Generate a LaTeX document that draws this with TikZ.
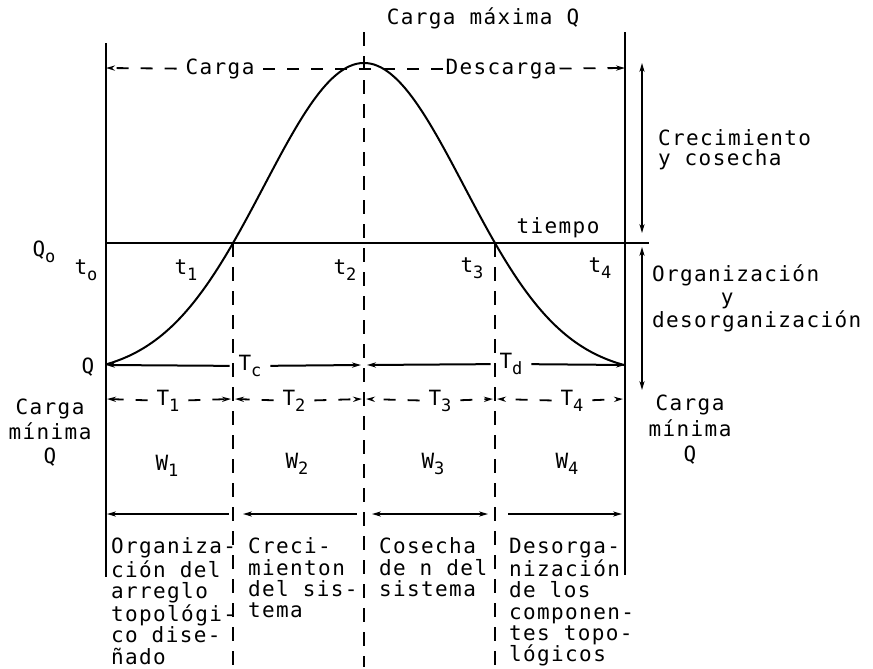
\documentclass[tikz,border=0pt]{standalone}
\usepackage{fontspec}
\setmonofont{DejaVu Sans Mono}[LetterSpace=6.7]
\usetikzlibrary{arrows.meta}
\newcommand{\sbs}[1]{\raisebox{-0.55ex}{\fontsize{8.5}{9}\selectfont #1}}

\begin{document}
\begin{tikzpicture}[x=0.5pt, y=-0.5pt, line width=1pt,
  >={Stealth[length=4.5pt,width=2.6pt]},
  lbl/.style={inner sep=1pt, font=\ttfamily\fontsize{10.5}{12}\selectfont},
  gaplbl/.style={lbl, inner xsep=4pt},
  blk/.style={lbl, inner sep=0pt, anchor=north west, align=left},
  dimdash/.style={line width=0.9pt, dash pattern=on 6pt off 6pt},
  vdash/.style={line width=0.9pt, dash pattern=on 7pt off 5pt}]

  \useasboundingbox (0,0) rectangle (873,669);

  % -- Axes and time line --
  \coordinate (axL0) at (106,43);
  \coordinate (axL1) at (106,577);
  \coordinate (axR0) at (625,32);
  \coordinate (axR1) at (625,575);
  \coordinate (tl0) at (106,243);
  \coordinate (tl1) at (649,243);
  \draw (axL0) -- (axL1);
  \draw (axR0) -- (axR1);
  \draw (tl0) -- (tl1);
  \node[lbl] (tiempo) at (558,228) {tiempo};

  % -- Dashed time marks --
  \coordinate (v1a) at (233,243);
  \coordinate (v1b) at (233,667);
  \coordinate (v2a) at (364,32);
  \coordinate (v2b) at (364,667);
  \coordinate (v3a) at (495,243);
  \coordinate (v3b) at (495,667);
  \draw[vdash] (v1a) -- (v1b);
  \draw[vdash] (v2a) -- (v2b);
  \draw[vdash] (v3a) -- (v3b);

  % -- Load curve --
  \draw plot[domain=106:625, samples=150, smooth]
    (\x, {365 - 302*(exp(-0.5*((\x-364)/100)*((\x-364)/100)) - 0.034)/0.966});

  % -- Maximum load --
  \node[lbl] (cmax) at (483,18) {Carga máxima Q};
  \coordinate (topL) at (106,68);
  \coordinate (topR) at (625,68);
  \node[gaplbl] (carga) at (220,69) {Carga};
  \node[lbl] (descarga) at (501,69) {Descarga};
  \draw[dimdash, ->] (carga) -- (topL);
  \draw[dimdash] (carga) -- (descarga);
  \draw[dimdash, ->] (descarga) -- (topR);

  % -- Left labels --
  \node[lbl] (qo) at (44,252) {Q\sbs{o}};
  \node[lbl] (to) at (86,270) {t\sbs{o}};
  \node[lbl] (qmin) at (88,367) {Q};
  \node[lbl, align=center, anchor=north, font=\ttfamily\fontsize{10.5}{12.3}\selectfont]
    (cminL) at (50,396) {Carga\\mínima\\Q};

  % -- Time marks --
  \node[lbl] (t1) at (186,270) {t\sbs{1}};
  \node[lbl] (t2) at (345,270) {t\sbs{2}};
  \node[lbl] (t3) at (472,268) {t\sbs{3}};
  \node[lbl] (t4) at (600,268) {t\sbs{4}};

  % -- Tc / Td --
  \coordinate (qL) at (106,365);
  \coordinate (qM1) at (361,365);
  \coordinate (qM2) at (367,365);
  \coordinate (qR) at (625,365);
  \node[gaplbl] (Tc) at (250,366) {T\sbs{c}};
  \node[gaplbl] (Td) at (511,364) {T\sbs{d}};
  \draw[->] (Tc) -- (qL);
  \draw[->] (Tc) -- (qM1);
  \draw[->] (Td) -- (qM2);
  \draw[->] (Td) -- (qR);

  % -- Periods T1..T4 --
  \coordinate (b0) at (107,399);
  \coordinate (b1l) at (231,399);
  \coordinate (b1r) at (235,399);
  \coordinate (b2l) at (362,399);
  \coordinate (b2r) at (366,399);
  \coordinate (b3l) at (493,399);
  \coordinate (b3r) at (497,399);
  \coordinate (b4) at (623,399);
  \node[gaplbl] (T1) at (168,401) {T\sbs{1}};
  \node[gaplbl] (T2) at (294,401) {T\sbs{2}};
  \node[gaplbl] (T3) at (440,401) {T\sbs{3}};
  \node[gaplbl] (T4) at (572,401) {T\sbs{4}};
  \draw[dimdash, ->] (T1) -- (b0);
  \draw[dimdash, ->] (T1) -- (b1l);
  \draw[dimdash, ->] (T2) -- (b1r);
  \draw[dimdash, ->] (T2) -- (b2l);
  \draw[dimdash, ->] (T3) -- (b2r);
  \draw[dimdash, ->] (T3) -- (b3l);
  \draw[dimdash, ->] (T4) -- (b3r);
  \draw[dimdash, ->] (T4) -- (b4);

  % -- Work W1..W4 --
  \node[lbl] (W1) at (167,466) {W\sbs{1}};
  \node[lbl] (W2) at (297,464) {W\sbs{2}};
  \node[lbl] (W3) at (433,464) {W\sbs{3}};
  \node[lbl] (W4) at (567,464) {W\sbs{4}};
  \coordinate (w1a) at (107,514);
  \coordinate (w1b) at (229,514);
  \coordinate (w2a) at (243,514);
  \coordinate (w2b) at (357,514);
  \coordinate (w3a) at (372,514);
  \coordinate (w3b) at (488,514);
  \coordinate (w4a) at (508,514);
  \coordinate (w4b) at (622,514);
  \draw[<-] (w1a) -- (w1b);
  \draw[<-] (w2a) -- (w2b);
  \draw[<->] (w3a) -- (w3b);
  \draw[->] (w4a) -- (w4b);

  % -- Phase texts --
  \node[blk, font=\ttfamily\fontsize{10.5}{10.6}\selectfont] (ph1) at (110,537)
    {Organiza-\\ción del\\arreglo\\topológi-\\co dise-\\ñado};
  \node[blk, font=\ttfamily\fontsize{10.5}{10.6}\selectfont] (ph2) at (247,537)
    {Creci-\\mienton\\del sis-\\tema};
  \node[blk, font=\ttfamily\fontsize{10.5}{10.6}\selectfont] (ph3) at (378,537)
    {Cosecha\\de n del\\sistema};
  \node[blk, font=\ttfamily\fontsize{10.5}{10.6}\selectfont] (ph4) at (508,537)
    {Desorga-\\nización\\de los\\componen-\\tes topo-\\lógicos};

  % -- Right side ranges --
  \coordinate (r1a) at (642,63);
  \coordinate (r1b) at (642,233);
  \coordinate (r2a) at (642,247);
  \coordinate (r2b) at (642,390);
  \draw[<->] (r1a) -- (r1b);
  \draw[<->] (r2a) -- (r2b);
  \node[blk, font=\ttfamily\fontsize{10.5}{10}\selectfont] (crec) at (657,129)
    {Crecimiento\\y cosecha};
  \node[blk, font=\ttfamily\fontsize{10.5}{11.5}\selectfont] (org) at (651,264)
    {Organización\\\phantom{Organ}y\\desorganización};
  \node[lbl, align=center, anchor=north, font=\ttfamily\fontsize{10.5}{12.8}\selectfont]
    (cminR) at (690,392) {Carga\\mínima\\Q};

\end{tikzpicture}
\end{document}
